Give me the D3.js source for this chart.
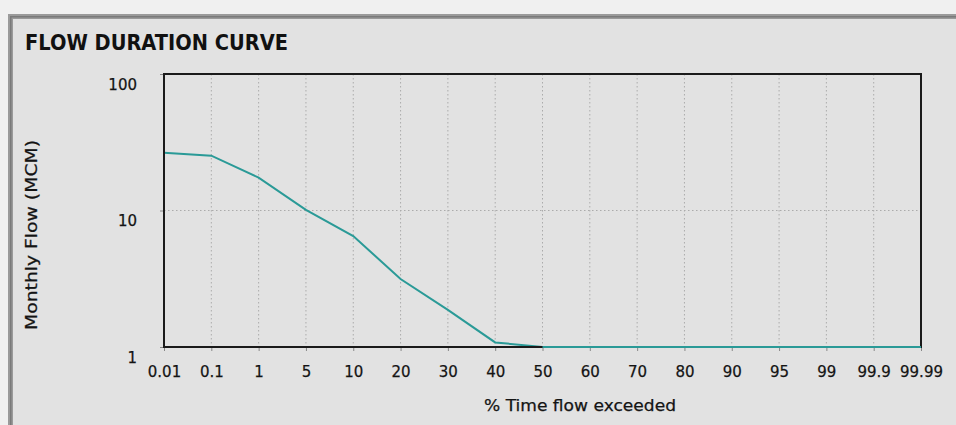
<!DOCTYPE html>
<html>
<head>
<meta charset="utf-8">
<script src="https://cdn.jsdelivr.net/npm/d3@7"></script>
<style>
  body { margin:0; background:#f0f0f0; }
  svg { display:block; }
</style>
</head>
<body>
<svg id="chart"></svg>
<script>
// SIZES
var width = 956;
var height = 425;

// plot frame
var plotLeft = 164, plotRight = 921, plotTop = 74, plotBottom = 347;

// DATA - % of time exceeded (category ticks) and monthly flow
var pctLabels = ["0.01","0.1","1","5","10","20","30","40","50","60","70","80","90","95","99","99.9","99.99"];
var flowValues = [26.5, 25.2, 17.4, 10.1, 6.5, 3.15, 1.87, 1.08, 1.0, 1.0, 1.0, 1.0, 1.0, 1.0, 1.0, 1.0, 1.0];
var yTicks = [1, 10, 100];

var lineColor = "#2a9a97";
var gridColor = "#ababab";
var textColor = "#141414";
var font = "DejaVu Sans";

var svg = d3.select("#chart").attr("width", width).attr("height", height);

// panel + border
svg.append("rect").attr("x",0).attr("y",0).attr("width",width).attr("height",height).attr("fill","#f0f0f0");
svg.append("rect").attr("x",8).attr("y",14).attr("width",width).attr("height",height)
    .attr("fill","#e2e2e2");
svg.append("rect").attr("x",8).attr("y",14).attr("width",width).attr("height",5).attr("fill","#9a9a9a");
svg.append("rect").attr("x",8).attr("y",14).attr("width",5).attr("height",height).attr("fill","#9a9a9a");
svg.append("rect").attr("x",10).attr("y",16).attr("width",width).attr("height",1.5).attr("fill","#7a7a7a");
svg.append("rect").attr("x",10).attr("y",16).attr("width",1.5).attr("height",height).attr("fill","#7a7a7a");

// title
svg.append("text")
    .attr("x",25).attr("y",50)
    .attr("font-family",font).attr("font-weight","bold")
    .attr("font-size",22)
    .attr("textLength",263).attr("lengthAdjust","spacingAndGlyphs")
    .attr("fill","#111")
    .text("FLOW DURATION CURVE");

// SCALES
var x = d3.scalePoint().domain(pctLabels).range([plotLeft, plotRight]);
var y = d3.scaleLog().domain([1, 100]).range([plotBottom, plotTop]);

// grid
svg.append("g").selectAll("line")
    .data(pctLabels.slice(1, -1))
    .enter().append("line")
    .attr("x1", d => x(d)).attr("x2", d => x(d))
    .attr("y1", plotTop).attr("y2", plotBottom)
    .attr("stroke", gridColor).attr("stroke-width",1)
    .attr("stroke-dasharray","1.5,2.5");
svg.append("g").selectAll("line")
    .data([10])
    .enter().append("line")
    .attr("x1", plotLeft).attr("x2", plotRight)
    .attr("y1", d => y(d)).attr("y2", d => y(d))
    .attr("stroke", gridColor).attr("stroke-width",1)
    .attr("stroke-dasharray","1.5,2.5");

// curve
var line = d3.line()
    .x((d,i) => x(pctLabels[i]))
    .y(d => y(d));
svg.append("path")
    .datum(flowValues)
    .attr("d", line)
    .attr("fill","none")
    .attr("stroke", lineColor)
    .attr("stroke-width",2);

// X AXIS
var xAxis = d3.axisBottom(x).tickSize(4).tickPadding(15);
var gx = svg.append("g").attr("transform","translate(0," + plotBottom + ")").call(xAxis);
gx.select(".domain").remove();
gx.selectAll(".tick line").attr("stroke","#888");
gx.selectAll(".tick text").attr("font-family",font).attr("font-size",15).attr("fill",textColor)
    .attr("stroke",textColor).attr("stroke-width",0.25);

// Y AXIS
var yAxis = d3.axisLeft(y).tickValues(yTicks).tickFormat(d3.format("d")).tickSize(4).tickPadding(23);
var gy = svg.append("g").attr("transform","translate(" + plotLeft + ",0)").call(yAxis);
gy.select(".domain").remove();
gy.selectAll(".tick line").attr("stroke","#888");
gy.selectAll(".tick text").attr("font-family",font).attr("font-size",15).attr("fill",textColor)
    .attr("stroke",textColor).attr("stroke-width",0.25)
    .attr("dy","1.0em");

// frame on top
svg.append("rect")
    .attr("x",plotLeft).attr("y",plotTop)
    .attr("width",plotRight-plotLeft).attr("height",plotBottom-plotTop)
    .attr("fill","none").attr("stroke","#1a1a1a").attr("stroke-width",2);
// re-draw bottom part of curve over the frame where it sits on the axis
svg.append("path")
    .datum(flowValues.slice(8))
    .attr("d", d3.line().x((d,i) => x(pctLabels[i+8])).y(d => y(d)))
    .attr("fill","none").attr("stroke",lineColor).attr("stroke-width",2);

// axis titles
svg.append("text")
    .attr("x",580).attr("y",411)
    .attr("text-anchor","middle")
    .attr("font-family",font).attr("font-size",16).attr("fill",textColor)
    .attr("stroke",textColor).attr("stroke-width",0.25)
    .attr("textLength",192).attr("lengthAdjust","spacingAndGlyphs")
    .text("% Time flow exceeded");
svg.append("text")
    .attr("transform","translate(37,235) rotate(-90)")
    .attr("text-anchor","middle")
    .attr("font-family",font).attr("font-size",15).attr("fill",textColor)
    .attr("stroke",textColor).attr("stroke-width",0.25)
    .attr("textLength",190).attr("lengthAdjust","spacingAndGlyphs")
    .text("Monthly Flow (MCM)");
</script>
</body>
</html>
